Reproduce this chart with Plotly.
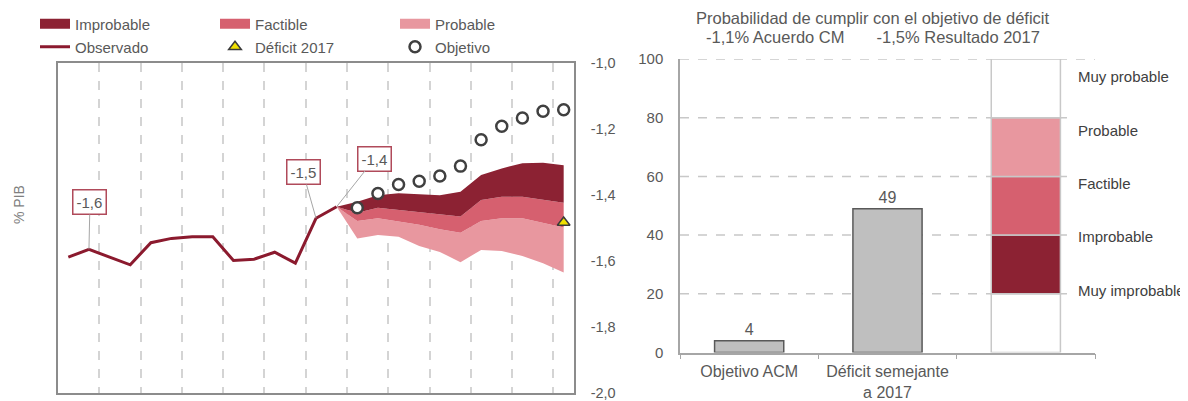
import plotly.graph_objects as go

# ---------------- data: left chart (fan chart, % PIB) ----------------
periodo = list(range(25))
observado = [-1.59, -1.566, -1.59, -1.613, -1.546, -1.533, -1.528, -1.528,
             -1.60, -1.596, -1.575, -1.608, -1.472, -1.437]
periodo_prev = list(range(13, 25))
banda_superior = [-1.437, -1.422, -1.402, -1.396, -1.399, -1.402, -1.392,
                  -1.341, -1.321, -1.305, -1.304, -1.311]
limite_impr_fact = [-1.437, -1.455, -1.440, -1.447, -1.454, -1.461, -1.467,
                    -1.417, -1.407, -1.407, -1.415, -1.425]
limite_fact_prob = [-1.437, -1.480, -1.472, -1.482, -1.492, -1.505, -1.516,
                    -1.480, -1.472, -1.472, -1.485, -1.500]
banda_inferior = [-1.437, -1.533, -1.523, -1.528, -1.556, -1.574, -1.605,
                  -1.568, -1.571, -1.586, -1.608, -1.636]
periodo_obj = list(range(14, 25))
objetivo = [-1.44, -1.397, -1.37, -1.36, -1.344, -1.314, -1.234, -1.193,
            -1.168, -1.148, -1.143]
periodo_def = [24]
deficit_2017 = [-1.485]
etiquetas_idx = [1, 12, 13]
ticks_pib = [-2.0, -1.8, -1.6, -1.4, -1.2, -1.0]

# ---------------- data: right chart (probabilities) ----------------
categorias = ["Objetivo ACM", "Déficit semejante<br>a 2017", " "]
probabilidad = [4, 49]
escala_nombres = ["Muy improbable", "Improbable", "Factible", "Probable", "Muy probable"]
escala_limites = [0, 20, 40, 60, 80, 100]
titulo_1 = "Probabilidad de cumplir con el objetivo de déficit"
titulo_2 = "-1,1% Acuerdo CM" + "\u00a0" * 6 + " -1,5% Resultado 2017"

# ---------------- layout geometry (reference pixels) ----------------
OFF = 8                       # page body margin of the html page
W, H = 1188 - OFF, 401 - OFF  # figure size
PL, PR, PT, PB = 58, 1095, 59, 393   # plot area in page pixels
ML, MR, MT, MB = PL - OFF, W - (PR - OFF), PT - OFF, H - (PB - OFF)
PW, PH = W - ML - MR, H - MT - MB


def fx(px):
    return (px - OFF - ML) / PW


def fy(py):
    return (H - MB - (py - OFF)) / PH


# ---------------- styles ----------------
C_DARK = "#8c2233"
C_MID = "#d6606f"
C_LIGHT = "#e8979f"
C_LINE = "#8b1a2e"
GRAY_TXT = "#595959"
FONT = "Liberation Sans, Arial, sans-serif"

fig = go.Figure()

# fan bands (drawn bottom-up with tonexty)
fig.add_trace(go.Scatter(x=periodo_prev, y=banda_inferior, mode="lines",
                         line=dict(width=0), showlegend=False, hoverinfo="skip",
                         xaxis="x", yaxis="y"))
fig.add_trace(go.Scatter(x=periodo_prev, y=limite_fact_prob, mode="lines",
                         line=dict(width=0), fill="tonexty", fillcolor=C_LIGHT,
                         showlegend=False, xaxis="x", yaxis="y"))
fig.add_trace(go.Scatter(x=periodo_prev, y=limite_impr_fact, mode="lines",
                         line=dict(width=0), fill="tonexty", fillcolor=C_MID,
                         showlegend=False, xaxis="x", yaxis="y"))
fig.add_trace(go.Scatter(x=periodo_prev, y=banda_superior, mode="lines",
                         line=dict(width=0), fill="tonexty", fillcolor=C_DARK,
                         showlegend=False, xaxis="x", yaxis="y"))

# legend entries for bands (row 1)
for name, col in [("Improbable", C_DARK), ("Factible", C_MID), ("Probable", C_LIGHT)]:
    fig.add_trace(go.Scatter(x=[None], y=[None], mode="lines", name=name,
                             line=dict(color=col, width=12), legend="legend",
                             xaxis="x", yaxis="y"))

# observed line
fig.add_trace(go.Scatter(x=periodo[:len(observado)], y=observado, mode="lines",
                         name="Observado", line=dict(color=C_LINE, width=3),
                         legend="legend2", xaxis="x", yaxis="y"))
# deficit 2017
fig.add_trace(go.Scatter(x=periodo_def, y=deficit_2017, mode="markers",
                         name="Déficit 2017",
                         marker=dict(symbol="triangle-up", size=11, color="#f0e000",
                                     line=dict(color="#3a3a3a", width=1.5)),
                         legend="legend2", xaxis="x", yaxis="y"))
# objective
fig.add_trace(go.Scatter(x=periodo_obj, y=objetivo, mode="markers",
                         name="Objetivo",
                         marker=dict(symbol="circle", size=11, color="white",
                                     line=dict(color="#404040", width=2.5)),
                         legend="legend2", xaxis="x", yaxis="y"))

# ---------------- right chart ----------------
fig.add_trace(go.Bar(x=categorias[:2], y=probabilidad, width=0.5,
                     marker=dict(color="#bfbfbf", line=dict(color="#595959", width=1.5)),
                     text=probabilidad, textposition="outside", cliponaxis=False,
                     textfont=dict(size=16, color=GRAY_TXT, family=FONT),
                     showlegend=False, xaxis="x2", yaxis="y2"))
escala_colores = ["white", C_DARK, C_MID, C_LIGHT, "white"]
for i, nombre in enumerate(escala_nombres):
    lo, hi = escala_limites[i], escala_limites[i + 1]
    fig.add_trace(go.Bar(x=[categorias[2]], y=[hi - lo], base=[lo], width=0.5,
                         marker=dict(color=escala_colores[i],
                                     line=dict(color="#c8c8c8", width=1.5)),
                         showlegend=False, hoverinfo="skip", name=nombre,
                         xaxis="x2", yaxis="y2"))

annotations = []
# value boxes on left chart
offsets = {1: (1, -47), 12: (-13, -46), 13: (38, -48)}
for k in etiquetas_idx:
    ax, ay = offsets[k]
    annotations.append(dict(
        x=periodo[k], y=observado[k], xref="x", yref="y",
        text=f"{observado[k]:.1f}".replace(".", ","),
        showarrow=True, arrowhead=0, arrowcolor="#a6a6a6", arrowwidth=1,
        ax=ax, ay=ay, font=dict(size=15, color=GRAY_TXT, family=FONT),
        bgcolor="white", bordercolor="#b04a5a", borderwidth=1.5, borderpad=3))

# scale labels on right chart (evenly spaced beside the stacked scale)
for i, nombre in enumerate(escala_nombres):
    annotations.append(dict(
        x=fx(1076), xref="paper", y=21.2 + 18.2 * i, yref="y2",
        yanchor="middle", xanchor="left",
        text=nombre, showarrow=False, font=dict(size=15, color="#404040", family=FONT)))

# right chart title (two lines)
for txt, ypx in [(titulo_1, 18), (titulo_2, 37)]:
    annotations.append(dict(
        x=fx(873), xref="paper", y=fy(ypx), yref="paper", xanchor="center",
        yanchor="middle", text=txt, showarrow=False,
        font=dict(size=16.5, color=GRAY_TXT, family=FONT)))

# y-axis title left
annotations.append(dict(
    x=fx(19), xref="paper", y=fy(205), yref="paper", text="% PIB",
    xanchor="center", yanchor="middle",
    textangle=-90, showarrow=False, font=dict(size=14, color="#7f7f7f", family=FONT)))

shapes = []
for v in escala_limites[1:]:
    shapes.append(dict(type="line", xref="x2 domain", yref="y2",
                       x0=0, x1=(1.0 if v == escala_limites[-1] else 0.9325),
                       y0=v, y1=v, layer="below",
                       line=dict(color="#c8c8c8", width=1.5, dash="dash")))

fig.update_layout(
    width=W, height=H,
    margin=dict(l=ML, r=MR, t=MT, b=MB, autoexpand=False),
    paper_bgcolor="white", plot_bgcolor="white",
    separators=",.",
    barmode="overlay",
    font=dict(family=FONT, size=14, color=GRAY_TXT),
    xaxis=dict(domain=[fx(58), fx(574)], range=[-0.5, 24.5], automargin=False,
               tickmode="linear", tick0=1.5, dtick=2, showticklabels=False, ticks="",
               showgrid=True, gridcolor="#d4d4d4", gridwidth=1.5, griddash="dash",
               showline=True, mirror=True, linecolor="#8c8c8c", linewidth=1.5,
               zeroline=False, anchor="y"),
    yaxis=dict(domain=[fy(392.5), fy(62.5)], range=[-2.0, -1.0], automargin=False,
               side="right", tickmode="array", tickvals=ticks_pib,
               ticktext=[f"{v:.1f}".replace(".", ",") for v in ticks_pib],
               showgrid=False, zeroline=False, ticks="", ticklabelstandoff=12,
               showline=True, mirror=True, linecolor="#8c8c8c", linewidth=1.5,
               tickfont=dict(size=14.5, color=GRAY_TXT), anchor="x"),
    xaxis2=dict(domain=[fx(680), fx(1095)], type="category", automargin=False,
                categoryorder="array", categoryarray=categorias,
                tickson="boundaries", ticks="outside", ticklen=5, tickcolor="#a6a6a6",
                ticklabelstandoff=4,
                showline=True, linecolor="#a6a6a6", linewidth=1.5, showgrid=False,
                tickfont=dict(size=16, color=GRAY_TXT), anchor="y2"),
    yaxis2=dict(domain=[fy(352.5), fy(59)], range=[0, 100], automargin=False,
                tickmode="linear", tick0=0, dtick=20, showgrid=False, zeroline=False,
                ticks="", ticklabelstandoff=12, showline=True, linecolor="#a6a6a6",
                linewidth=1.5, tickfont=dict(size=15, color=GRAY_TXT), anchor="x2"),
    legend=dict(orientation="h", x=fx(35), xanchor="left", y=fy(24),
                yanchor="middle", entrywidth=135, traceorder="normal",
                font=dict(size=15, color=GRAY_TXT), bgcolor="rgba(0,0,0,0)",
                itemclick=False, itemdoubleclick=False),
    legend2=dict(orientation="h", x=fx(35), xanchor="left", y=fy(47),
                 yanchor="middle", entrywidth=135, traceorder="normal",
                 font=dict(size=15, color=GRAY_TXT), bgcolor="rgba(0,0,0,0)",
                 itemclick=False, itemdoubleclick=False),
    annotations=annotations,
    shapes=shapes,
)

fig.write_html("out.html")
